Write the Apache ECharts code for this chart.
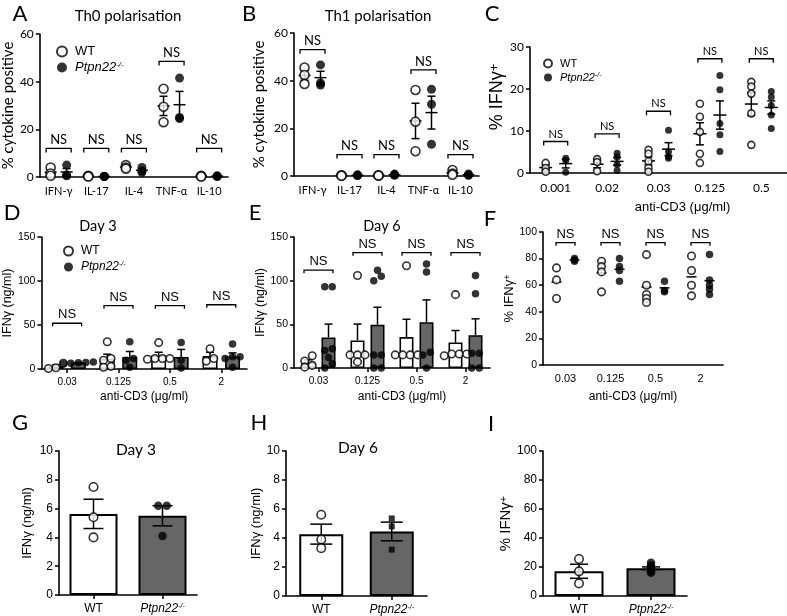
<!DOCTYPE html>
<html>
<head>
<meta charset="utf-8">
<script src="https://cdn.jsdelivr.net/npm/echarts@6/dist/echarts.min.js"></script>
<style>
  html, body { margin: 0; padding: 0; background: #fff; }
  #main { width: 787px; height: 616px; }
</style>
</head>
<body>
<div id="main"></div>
<script>
// ---- data ----
const cytokines = ['IFN-γ', 'IL-17', 'IL-4', 'TNF-α', 'IL-10'];
const th0WT = [[4, 1.5, 0.5], [0.5, 0.3, 0.2], [5, 4, 3.5], [37, 29.5, 23], [0.5, 0.3, 0.2]];
const th0KO = [[5, 0.8, 0.5], [0.3, 0.2, 0.2], [4, 2.5, 2], [41.5, 25, 24.5], [0.5, 0.3, 0.2]];
const th0NS = [12, 12, 12, 48.5, 12];

const th1WT = [[45.5, 42.4, 38.6], [0.3, 0.2, 0.1], [0.3, 0.2, 0.2], [36.1, 22.8, 10.4], [2.5, 1, 0.5]];
const th1KO = [[46.6, 39, 38.2], [0.5, 0.3, 0.2], [0.8, 0.5, 0.3], [36.4, 30.1, 13.3], [0.8, 0.5, 0.3]];
const th1NS = [53, 9, 9, 44.5, 9];

const dosesC = ['0.001', '0.02', '0.03', '0.125', '0.5'];
const ifnWT_C = [[2.4, 1.2, 0.3], [3.3, 2.6, 0.4], [5.5, 4.6, 2.8, 1.2, 0.3], [16.5, 13.4, 9.8, 4.6, 2.4], [21.7, 20.6, 18.9, 14.2, 6.7]];
const ifnKO_C = [[3.5, 3.0, 0.2], [4.7, 3.8, 2.0, 0.6], [10.2, 5.1, 3.9, 3.5], [23.2, 19.8, 11.8, 9.1, 5.1], [19.4, 18.1, 16.1, 13.8, 10.6]];
const nsC = [7.5, 9.3, 14.7, 27.2, 27.2];

const doses = ['0.03', '0.125', '0.5', '2'];
const day3WT = [[6.5, 1.5, 0.5], [31, 12, 10, 3, 2], [30, 12, 12, 12, 11], [23, 12, 9]];
const day3KO = [[8, 7.5, 7, 6.5, 6], [31, 12, 10, 2], [30, 10, 1], [28.5, 14, 14, 12, 2]];
const nsD = [52, 72, 72, 73];

const day6WT = [[14, 8, 3, 1], [106, 15, 15, 15, 7], [117, 15, 15, 15, 15], [84, 16, 16, 16, 14]];
const day6KO = [[93, 93, 22, 20, 12, 5, 0], [112, 105, 100, 15, 15, 0, 0], [119, 110, 18, 15, 0], [106, 85, 17, 17, 0, 0]];
const nsE = [112, 132, 132, 132];

const ifnWT_F = [[73, 64, 50], [78, 74, 70, 55], [83, 60, 53, 50, 47], [82, 71, 60, 52]];
const ifnKO_F = [[80, 79, 78], [80, 74, 71, 63], [63, 56, 55], [83, 64, 60, 57, 53]];
const nsF = [92, 92, 92, 92];

const genotypes = ['WT', 'Ptpn22-/-'];
const gDay3 = [[7.5, 5.4, 4.0], [6.2, 6.2, 4.1]];
const hDay6 = [[5.6, 3.9, 3.3], [5.35, 4.8, 3.2]];
const iPct = [[25.5, 17, 8.7], [23, 21, 20, 19, 18, 17, 16]];

// ---- helpers ----
const KO = genotypes[1];
const CAL = 'Lato';
const ARI = 'Liberation Sans';
const GREY = '#666666';

function meanSem(a) {
  const n = a.length;
  const m = a.reduce((s, v) => s + v, 0) / n;
  const sd = Math.sqrt(a.reduce((s, v) => s + (v - m) * (v - m), 0) / (n - 1));
  return [m, sd / Math.sqrt(n)];
}

// spread points that would overlap into rows, like a prism scatter
function swarm(vals, pxPerUnit, size) {
  const idx = vals.map((v, k) => k).sort((a, b) => vals[a] - vals[b]);
  const out = vals.map(() => 0);
  let row = [];
  const flush = () => {
    row.forEach((k, j) => { out[k] = (j - (row.length - 1) / 2) * size; });
    row = [];
  };
  idx.forEach(k => {
    if (row.length && (vals[k] - vals[row[0]]) * pxPerUnit > size * 0.8) flush();
    row.push(k);
  });
  flush();
  return out;
}

function dots(p, groups, o) {
  const data = [];
  groups.forEach((vals, i) => {
    const offs = o.swarmPx ? swarm(vals, o.swarmPx, o.size) : vals.map(() => 0);
    vals.forEach((v, k) => data.push({ value: [i + (o.base || 0), v], symbolOffset: [(o.dx || 0) + offs[k], 0] }));
  });
  return {
    type: 'scatter', name: o.name, xAxisIndex: p, yAxisIndex: p, silent: true, z: 4,
    symbol: o.symbol || 'circle', symbolSize: o.size, data,
    itemStyle: o.filled ? { color: '#000', borderColor: '#000', borderWidth: 0 }
                        : { color: '#fff', borderColor: '#000', borderWidth: 1.6 }
  };
}

function errs(p, groups, dx, o) {
  return {
    type: 'custom', xAxisIndex: p, yAxisIndex: p, silent: true, z: 3,
    data: groups.map((g, i) => [i].concat(meanSem(g))),
    renderItem: function (params, api) {
      const i = api.value(0), m = api.value(1), s = api.value(2);
      const pm = api.coord([i, m]);
      const x = pm[0] + dx, ym = pm[1];
      const yt = api.coord([i, m + s])[1];
      const yb = o.up ? ym : api.coord([i, m - s])[1];
      const st = { stroke: '#000', lineWidth: o.lw || 1.5, fill: null };
      const ln = (x1, y1, x2, y2) => ({ type: 'line', shape: { x1, y1, x2, y2 }, style: st });
      const kids = [];
      if (o.meanW) kids.push(ln(x - o.meanW / 2, ym, x + o.meanW / 2, ym));
      if (o.capW) {
        kids.push(ln(x, yt, x, yb));
        kids.push(ln(x - o.capW / 2, yt, x + o.capW / 2, yt));
        if (!o.up) kids.push(ln(x - o.capW / 2, yb, x + o.capW / 2, yb));
      }
      return { type: 'group', children: kids };
    }
  };
}

function brackets(p, tops, half, tick, font) {
  return {
    type: 'custom', xAxisIndex: p, yAxisIndex: p, silent: true, z: 5,
    data: tops.map((v, i) => [i, v]),
    renderItem: function (params, api) {
      const pt = api.coord([api.value(0), api.value(1)]);
      const x = pt[0], y = pt[1];
      return { type: 'group', children: [
        { type: 'polyline', shape: { points: [[x - half, y + tick], [x - half, y], [x + half, y], [x + half, y + tick]] },
          style: { stroke: '#000', lineWidth: 1.3, fill: null } },
        { type: 'text', style: { text: 'NS', x: x, y: y - 2, align: 'center', verticalAlign: 'bottom', font: font, fill: '#000' } }
      ] };
    }
  };
}

function bars(p, groups, fill, bw, gap) {
  return {
    type: 'bar', xAxisIndex: p, yAxisIndex: p, silent: true, z: 2,
    data: groups.map(g => meanSem(g)[0]),
    barWidth: bw, barGap: gap,
    itemStyle: { color: fill, borderColor: '#000', borderWidth: 1.6 }
  };
}

function genoBars(p, groups, bw) {
  const fills = ['#fff', GREY];
  return {
    type: 'bar', xAxisIndex: p, yAxisIndex: p, silent: true, z: 2, barWidth: bw,
    data: groups.map((g, i) => ({ value: meanSem(g)[0], itemStyle: { color: fills[i] } })),
    itemStyle: { borderColor: '#000', borderWidth: 2 }
  };
}

const koRich = (size, font) => ({
  i: { fontStyle: 'italic', fontFamily: font, fontSize: size, color: '#000' },
  s: { fontStyle: 'italic', fontFamily: font, fontSize: Math.round(size * 0.62), verticalAlign: 'top', color: '#000' }
});
const koFmt = v => v === KO ? '{i|Ptpn22}{s|-/-}' : v;

function xAx(p, cats, font, size, margin, ticks, extra) {
  return Object.assign({
    type: 'category', gridIndex: p, data: cats,
    axisLine: { lineStyle: { color: '#000', width: 1.6 } },
    axisTick: { show: ticks, alignWithLabel: true, length: 4, lineStyle: { color: '#000', width: 1.5 } },
    axisLabel: { color: '#000', fontFamily: font, fontSize: size, margin: margin, interval: 0 },
    splitLine: { show: false }
  }, extra || {});
}

function yAx(p, max, step, font, size, extra) {
  return Object.assign({
    type: 'value', gridIndex: p, min: 0, max: max, interval: step,
    axisLine: { show: true, lineStyle: { color: '#000', width: 1.6 } },
    axisTick: { show: true, length: 4, lineStyle: { color: '#000', width: 1.5 } },
    axisLabel: { color: '#000', fontFamily: font, fontSize: size, margin: 6 },
    splitLine: { show: false }
  }, extra || {});
}

const pctName = (size, gap, pad) => ({
  name: '{a|% IFNγ}{s|+}', nameLocation: 'middle', nameRotate: 90, nameGap: gap,
  nameTextStyle: {
    fontFamily: ARI, fontSize: size, color: '#000',
    padding: pad || 0,
    rich: {
      a: { fontFamily: ARI, fontSize: size, color: '#000' },
      s: { fontFamily: ARI, fontSize: Math.round(size * 0.7), verticalAlign: 'top', color: '#000' }
    }
  }
});
const yName = (text, font, size, gap) => ({
  name: text, nameLocation: 'middle', nameRotate: 90, nameGap: gap,
  nameTextStyle: { color: '#000', fontFamily: font, fontSize: size }
});
const xName = (gap, size, pad) => ({
  name: 'anti-CD3 (μg/ml)', nameLocation: 'middle', nameGap: gap,
  nameTextStyle: { color: '#000', fontFamily: ARI, fontSize: size, padding: pad || 0 }
});

// ---- layout ----
const grids = [
  { left: 39, top: 34, width: 189, height: 143 },   // A
  { left: 294, top: 33, width: 185, height: 143 },  // B
  { left: 530, top: 47, width: 257, height: 126 },  // C
  { left: 39, top: 237, width: 208, height: 132 },  // D
  { left: 294, top: 237, width: 196, height: 131 }, // E
  { left: 543, top: 232, width: 180, height: 133 }, // F
  { left: 59, top: 451, width: 138, height: 144 },  // G
  { left: 286, top: 451, width: 141, height: 145 }, // H
  { left: 543, top: 451, width: 144, height: 145 }  // I
];

const genoLabel = size => ({
  color: '#000', fontFamily: ARI, fontSize: size, margin: 8, interval: 0,
  formatter: koFmt, rich: koRich(size, ARI)
});

const xAxes = [
  xAx(0, cytokines, CAL, 11, 9, false),
  xAx(1, cytokines, CAL, 11, 9, false),
  xAx(2, dosesC, CAL, 12, 9, false, xName(28, 13, [0, 0, 0, 48])),
  xAx(3, doses, ARI, 10, 8, true, xName(22, 12)),
  xAx(4, doses, ARI, 10, 8, true, xName(23, 12, [0, 0, 0, 20])),
  xAx(5, doses, ARI, 11, 8, false, xName(26, 12)),
  xAx(6, genotypes, ARI, 12, 8, true, { axisLabel: genoLabel(12) }),
  xAx(7, genotypes, ARI, 12, 8, true, { axisLabel: genoLabel(12) }),
  xAx(8, genotypes, ARI, 12, 8, true, { axisLabel: genoLabel(12) })
];

const yAxes = [
  yAx(0, 60, 20, CAL, 12, yName('% cytokine positive', CAL, 15, 21)),
  yAx(1, 60, 20, CAL, 12, yName('% cytokine positive', CAL, 15, 27)),
  yAx(2, 30, 10, CAL, 12, pctName(18, 24, [0, 0, 0, 26])),
  yAx(3, 150, 50, ARI, 10.5, yName('IFNγ (ng/ml)', ARI, 12.5, 26)),
  yAx(4, 150, 50, ARI, 10.5, yName('IFNγ (ng/ml)', ARI, 12.5, 26)),
  yAx(5, 100, 20, ARI, 10.5, pctName(13, 24)),
  yAx(6, 10, 2, ARI, 12, yName('IFNγ (ng/ml)', ARI, 13, 25)),
  yAx(7, 10, 2, ARI, 12, yName('IFNγ (ng/ml)', ARI, 13, 21)),
  yAx(8, 100, 20, ARI, 12, pctName(15, 27))
];

// ---- series ----
const series = [];
const sem = (w, c) => ({ meanW: w, capW: c });

// A, B
[[0, th0WT, th0KO, th0NS], [1, th1WT, th1KO, th1NS]].forEach(([p, wt, ko, ns]) => {
  series.push(dots(p, wt, { dx: -8, size: 9, name: 'WT' }));
  series.push(dots(p, ko, { dx: 8, size: 9, filled: true, name: KO }));
  series.push(errs(p, wt, -8, sem(12, 8)));
  series.push(errs(p, ko, 8, sem(12, 8)));
  series.push(brackets(p, ns, 12.5, 4, '13px ' + CAL));
});

// C
series.push(dots(2, ifnWT_C, { dx: -10, size: 7, name: 'WT' }));
series.push(dots(2, ifnKO_C, { dx: 10, size: 7, filled: true, name: KO }));
series.push(errs(2, ifnWT_C, -10, sem(13, 8)));
series.push(errs(2, ifnKO_C, 10, sem(13, 8)));
series.push(brackets(2, nsC, 12, 4, '11px ' + CAL));

// D, E
[[3, day3WT, day3KO, nsD, 15, '50%', 11.25, 132 / 150],
 [4, day6WT, day6KO, nsE, 14, '43%', 10, 131 / 150]].forEach(([p, wt, ko, ns, bw, gap, off, ppu]) => {
  series.push(bars(p, wt, '#fff', bw, gap));
  series.push(bars(p, ko, GREY, bw, gap));
  series.push(errs(p, wt, -off, { capW: 8, up: true }));
  series.push(errs(p, ko, off, { capW: 8, up: true }));
  series.push(dots(p, wt, { dx: -off, size: 7.5, swarmPx: ppu, name: 'WT' }));
  series.push(dots(p, ko, { dx: off, size: 7.5, swarmPx: ppu, filled: true, name: KO }));
  series.push(brackets(p, ns, 14.5, 3, '13px ' + ARI));
});

// F
series.push(dots(5, ifnWT_F, { dx: -9, size: 7.5, name: 'WT' }));
series.push(dots(5, ifnKO_F, { dx: 9, size: 7.5, filled: true, name: KO }));
series.push(errs(5, ifnWT_F, -9, sem(10, 0)));
series.push(errs(5, ifnKO_F, 9, sem(10, 0)));
series.push(brackets(5, nsF, 9.5, 3, '13px ' + ARI));

// G, H, I
[[6, gDay3, 48, 144 / 10, 'circle', 8.5, 20],
 [7, hDay6, 44, 145 / 10, 'rect', 8.5, 22],
 [8, iPct, 49, 145 / 100, 'circle', 8.5, 18]].forEach(([p, groups, bw, ppu, koSym, size, cap]) => {
  series.push(genoBars(p, groups, bw));
  series.push(errs(p, groups, 0, { capW: cap }));
  series.push(dots(p, [groups[0]], { size: size, swarmPx: ppu, name: 'WT' }));
  series.push(dots(p, [groups[1]], { base: 1, size: koSym === 'rect' ? 6 : size, swarmPx: p === 6 ? ppu : 0,
    filled: true, symbol: koSym, name: KO }));
});

// ---- text: panel letters and titles ----
const txt = (text, x, y, font) => ({
  type: 'text', x: x, y: y, silent: true,
  style: { text: text, font: font, fill: '#000', align: 'center', verticalAlign: 'middle',
           textAlign: 'center', textVerticalAlign: 'middle' }
});
const LET = '22px ' + CAL;
const graphic = [
  txt('A', 20, 14, LET), txt('B', 249, 14, LET), txt('C', 492, 14, LET),
  txt('D', 12, 213, LET), txt('E', 255, 213, LET), txt('F', 490, 219, LET),
  txt('G', 20, 423, LET), txt('H', 259, 423, LET), txt('I', 491, 424, LET),
  txt('Th0 polarisation', 128, 16, '15px ' + CAL),
  txt('Th1 polarisation', 378, 16, '15px ' + CAL),
  txt('Day 3', 98, 226, '14.5px ' + CAL),
  txt('Day 6', 382, 226, '14.5px ' + CAL),
  txt('Day 3', 136, 450, '15.5px ' + CAL),
  txt('Day 6', 358, 448, '15.5px ' + CAL)
];

const legend = (left, top, icon, size, gap) => ({
  data: ['WT', KO], orient: 'vertical', left: left, top: top, selectedMode: false,
  itemWidth: icon, itemHeight: icon, itemGap: gap,
  formatter: koFmt,
  textStyle: { color: '#000', fontFamily: ARI, fontSize: size, padding: [0, 0, 0, 3], rich: koRich(size, ARI) }
});

const chart = echarts.init(document.getElementById('main'));
chart.setOption({
  animation: false,
  backgroundColor: '#fff',
  grid: grids,
  xAxis: xAxes,
  yAxis: yAxes,
  legend: [legend(51, 40, 10, 13, 3), legend(538, 53, 8, 11, 3), legend(58, 240, 9, 12, 4)],
  graphic: graphic,
  series: series
});
</script>
</body>
</html>
